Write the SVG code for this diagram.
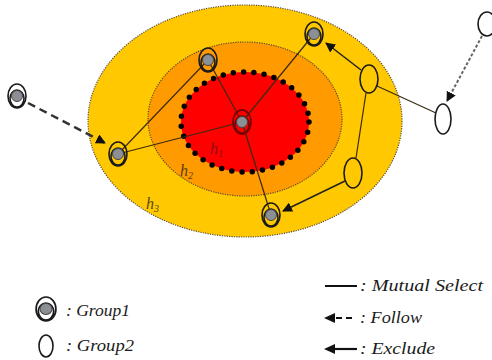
<svg xmlns="http://www.w3.org/2000/svg" width="492" height="360" viewBox="0 0 492 360">
<style>
.zone{stroke:#5a4a30;stroke-width:1.2;stroke-dasharray:1.2 1.2}
.e{stroke:#3a2a10;stroke-width:1.2;fill:none}
.ex{stroke:#222;stroke-width:1.5;fill:none}
.g1o{fill:none;stroke:#1a1a1a;stroke-width:1.6}
.g1c{fill:#8c9096;stroke:#444;stroke-width:1}
.g2{fill:none;stroke:#1a1a1a;stroke-width:1.6}
.t{font-family:'Liberation Serif','DejaVu Serif',serif;font-style:italic;fill:#1a1a1a;font-size:16px}
.h{font-family:'Liberation Serif','DejaVu Serif',serif;font-style:italic;font-size:16px}
</style>
<defs>
<marker id="ah" viewBox="0 0 10 10" refX="9" refY="5" markerWidth="10" markerHeight="10" markerUnits="userSpaceOnUse" orient="auto">
<path d="M0,0 L10,5 L0,10 z" fill="#111"/>
</marker>
<g id="grp1sym">
<ellipse cx="0" cy="0" rx="9" ry="12" class="g1o"/>
<ellipse cx="0" cy="2.5" rx="7" ry="8.5" class="g1o"/>
<circle cx="0" cy="0" r="5.5" class="g1c"/>
</g>
</defs>
<g id="zones">
<ellipse cx="245" cy="121" rx="157" ry="116" fill="#FFC800" class="zone"/>
<ellipse cx="245" cy="119" rx="97" ry="77" fill="#FF9A00" class="zone"/>
<ellipse cx="245" cy="122" rx="64" ry="50" fill="#FF0000"/>
<ellipse cx="245" cy="122" rx="64" ry="50" fill="none" stroke="#000" stroke-width="5.5" stroke-linecap="round" stroke-dasharray="0 10.3"/>
</g>
<g id="connectors">
<line class="e" x1="242" y1="122" x2="208" y2="60"/>
<line class="e" x1="242" y1="122" x2="118" y2="154"/>
<line class="e" x1="242" y1="122" x2="314" y2="34"/>
<line class="e" x1="242" y1="122" x2="271" y2="215"/>
<line class="e" x1="118" y1="154" x2="208" y2="60"/>
<line class="e" x1="366" y1="93" x2="356" y2="158"/>
<line class="e" x1="436" y1="113" x2="377" y2="86"/>
<line class="ex" x1="361" y1="70" x2="326" y2="43" marker-end="url(#ah)"/>
<line class="ex" x1="345" y1="181" x2="283" y2="211" marker-end="url(#ah)"/>
<line x1="482" y1="36" x2="447" y2="101" stroke="#666" stroke-width="2" stroke-dasharray="3 2" marker-end="url(#ah)"/>
<line x1="28" y1="103" x2="105" y2="143" stroke="#333" stroke-width="2.5" stroke-dasharray="8 5" marker-end="url(#ah)"/>
</g>
<g id="n1"><use href="#grp1sym" x="17" y="96"/></g>
<g id="n2"><use href="#grp1sym" x="118" y="154"/></g>
<g id="n3"><use href="#grp1sym" x="208" y="60"/></g>
<g id="n4">
<ellipse cx="242" cy="122" rx="9" ry="12" fill="none" stroke="#7a0000" stroke-width="1.8"/>
<ellipse cx="242" cy="124.5" rx="7" ry="8.5" fill="none" stroke="#7a0000" stroke-width="1.6"/>
<circle cx="242" cy="122" r="5.5" class="g1c"/>
</g>
<g id="n5"><use href="#grp1sym" x="314" y="34"/></g>
<g id="n6"><use href="#grp1sym" x="271" y="215"/></g>
<g id="g1"><ellipse class="g2" cx="369" cy="79" rx="9" ry="14"/></g>
<g id="g2"><ellipse class="g2" cx="353" cy="173" rx="9" ry="15"/></g>
<g id="g3"><ellipse class="g2" cx="443" cy="119" rx="8" ry="15"/></g>
<g id="g4"><ellipse class="g2" cx="487" cy="24" rx="9" ry="12"/></g>
<g id="labels">
<text class="h" x="210" y="154" fill="#8b1010">h<tspan font-size="10" dy="3">1</tspan></text>
<text class="h" x="180" y="176" fill="#5a4010">h<tspan font-size="10" dy="3">2</tspan></text>
<text class="h" x="146" y="209" fill="#5a4a10">h<tspan font-size="10" dy="3">3</tspan></text>
</g>
<g id="legend">
<g transform="translate(46,309) scale(1.1,1)"><use href="#grp1sym"/></g>
<text class="t" x="66" y="316" textLength="64" lengthAdjust="spacingAndGlyphs">: Group1</text>
<ellipse class="g2" cx="46" cy="346" rx="7" ry="11"/>
<text class="t" x="66" y="351" textLength="68" lengthAdjust="spacingAndGlyphs">: Group2</text>
<line x1="325" y1="286" x2="357" y2="286" stroke="#111" stroke-width="2"/>
<text class="t" x="360" y="291" textLength="123" lengthAdjust="spacingAndGlyphs">: Mutual Select</text>
<line x1="352" y1="318" x2="334" y2="318" stroke="#111" stroke-width="2.2" stroke-dasharray="6 4"/>
<path d="M324,318 L335,313 L335,323 z" fill="#111"/>
<text class="t" x="360" y="323" textLength="62" lengthAdjust="spacingAndGlyphs">: Follow</text>
<line x1="357" y1="349" x2="332" y2="349" stroke="#111" stroke-width="2.2"/>
<path d="M324,349 L335,344 L335,354 z" fill="#111"/>
<text class="t" x="360" y="354" textLength="75" lengthAdjust="spacingAndGlyphs">: Exclude</text>
</g>
</svg>
